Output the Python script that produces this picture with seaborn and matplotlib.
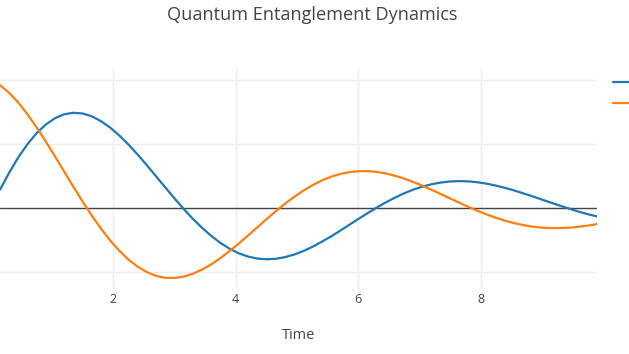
import matplotlib
matplotlib.use("Agg")
import matplotlib.pyplot as plt
import seaborn as sns
import pandas as pd

# Data
time = [0.15, 0.30, 0.45, 0.60, 0.75, 0.90, 1.05, 1.20, 1.35, 1.50,
        1.65, 1.80, 1.95, 2.10, 2.25, 2.40, 2.55, 2.70, 2.85, 3.00,
        3.15, 3.30, 3.45, 3.60, 3.75, 3.90, 4.05, 4.20, 4.35, 4.50,
        4.65, 4.80, 4.95, 5.10, 5.25, 5.40, 5.55, 5.70, 5.85, 6.00,
        6.15, 6.30, 6.45, 6.60, 6.75, 6.90, 7.05, 7.20, 7.35, 7.50,
        7.65, 7.80, 7.95, 8.10, 8.25, 8.40, 8.55, 8.70, 8.85, 9.00,
        9.15, 9.30, 9.45, 9.60, 9.75, 9.90]
qubit_a = [0.145, 0.278, 0.398, 0.501, 0.587, 0.654, 0.703, 0.733, 0.745, 0.739,
           0.717, 0.679, 0.629, 0.567, 0.496, 0.418, 0.335, 0.249, 0.163, 0.077,
           -0.005, -0.082, -0.152, -0.215, -0.270, -0.315, -0.351, -0.376, -0.392, -0.397,
           -0.394, -0.381, -0.361, -0.334, -0.301, -0.262, -0.221, -0.176, -0.130, -0.084,
           -0.039, 0.005, 0.046, 0.083, 0.117, 0.146, 0.169, 0.188, 0.201, 0.209,
           0.212, 0.210, 0.203, 0.192, 0.177, 0.159, 0.139, 0.116, 0.093, 0.068,
           0.044, 0.020, -0.003, -0.026, -0.046, -0.063]
qubit_b = [0.960, 0.900, 0.823, 0.732, 0.630, 0.519, 0.403, 0.285, 0.167, 0.052,
           -0.057, -0.159, -0.251, -0.332, -0.401, -0.456, -0.498, -0.527, -0.542, -0.543,
           -0.533, -0.510, -0.478, -0.437, -0.388, -0.333, -0.274, -0.212, -0.149, -0.086,
           -0.024, 0.034, 0.088, 0.136, 0.179, 0.216, 0.245, 0.267, 0.282, 0.289,
           0.290, 0.284, 0.272, 0.254, 0.232, 0.205, 0.176, 0.144, 0.111, 0.077,
           0.044, 0.011, -0.020, -0.048, -0.074, -0.097, -0.116, -0.131, -0.143, -0.151,
           -0.154, -0.154, -0.151, -0.144, -0.135, -0.123]
series_names = ["Qubit A", "Qubit B"]
x_ticks = [2, 4, 6, 8]
y_ticks = [-0.5, 0, 0.5, 1]

df = pd.concat([
    pd.DataFrame({"Time": time, "Value": qubit_a, "Series": series_names[0]}),
    pd.DataFrame({"Time": time, "Value": qubit_b, "Series": series_names[1]}),
])

sns.set_style("white")
plt.rcParams["font.family"] = ["Open Sans", "DejaVu Sans"]

W, H = 629, 354
fig = plt.figure(figsize=(W / 100, H / 100), dpi=100)
ax = fig.add_axes([0, 1 - 289 / H, 597 / W, (289 - 69) / H])

sns.lineplot(data=df, x="Time", y="Value", hue="Series",
             palette=["#1f77b4", "#ff7f0e"], linewidth=1.6, ax=ax,
             legend=False, zorder=3)

ax.set_xlim(0.15, 9.9)
ax.set_ylim(-0.629, 1.086)
ax.set_xticks(x_ticks)
ax.set_yticks(y_ticks)
ax.set_yticklabels([])
ax.grid(True, color="#eeeeee", linewidth=1.0, zorder=0)
ax.axhline(0, color="#444444", linewidth=1.0, zorder=2)
for s in ax.spines.values():
    s.set_visible(False)
ax.tick_params(axis="both", length=0, colors="#444444", labelsize=9, pad=3)
ax.set_xlabel("Time", fontsize=10.5, color="#444444", labelpad=16)
ax.set_ylabel("")

fig.text(0.497, 1 - 15 / H, "Quantum Entanglement Dynamics", ha="center", va="center",
         fontsize=13.1, color="#444444")

handles = [plt.Line2D([], [], color="#1f77b4", linewidth=1.6),
           plt.Line2D([], [], color="#ff7f0e", linewidth=1.6)]
fig.legend(handles, series_names, loc="upper left",
           bbox_to_anchor=(613 / W, 1 - 76.5 / H), frameon=False,
           fontsize=9, handlelength=3.5, borderpad=0, borderaxespad=0,
           labelspacing=0.62, labelcolor="#444444")

fig.savefig("out.png", dpi=100)
